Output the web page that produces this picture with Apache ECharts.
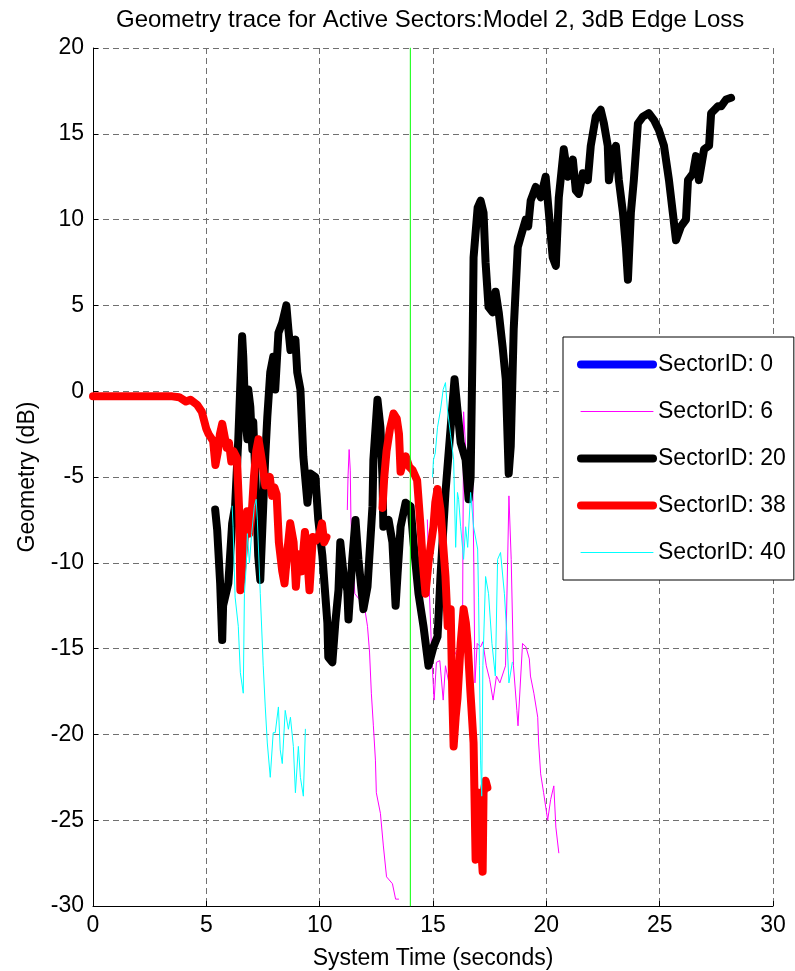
<!DOCTYPE html>
<html>
<head>
<meta charset="utf-8">
<script src="https://cdn.jsdelivr.net/npm/echarts@6/dist/echarts.min.js"></script>
<style>
  html, body { margin: 0; padding: 0; background: #fff; }
  #chart-container { width: 795px; height: 971px; }
</style>
</head>
<body>
<div id="chart-container"></div>
<script>
// values: [time (s), geometry (dB)]
var sector0 = [];

var sector6a = [[11.22,-6.9],[11.25,-5.0],[11.3,-3.4],[11.35,-4.6],[11.38,-7.5],[11.55,-11.8],[11.97,-12.5],[12.11,-13.7],[12.2,-15.2],[12.28,-17.6],[12.37,-19.5],[12.46,-21.5],[12.5,-23.4],[12.68,-24.6],[12.81,-26.5],[12.95,-28.3],[13.21,-28.7],[13.35,-29.6],[13.48,-29.6]];
var sector6b = [[14.75,-7.5],[14.85,-12],[14.95,-15.6],[15.05,-18],[15.15,-15.8],[15.3,-15.7],[15.45,-18],[15.55,-16],[15.7,-17],[15.9,-15.5],[16.1,-15],[16.3,-14.8],[16.35,-1.2],[16.45,-3.5],[16.6,-5],[16.75,-4.9],[16.8,-10],[16.85,-17],[16.95,-14.7],[17.1,-14.9],[17.2,-14.6],[17.35,-16],[17.5,-16.8],[17.65,-18],[17.8,-16.6],[17.95,-17],[18.2,-16],[18.35,-6.1],[18.45,-9.8],[18.55,-16],[18.7,-18.6],[18.75,-19.5],[18.95,-14.7],[19.1,-14.9],[19.25,-15.6],[19.3,-16.6],[19.45,-17.6],[19.62,-19],[19.66,-20.5],[19.75,-22.3],[19.88,-23.4],[20.06,-25],[20.19,-23.8],[20.33,-23],[20.42,-25.4],[20.55,-26.9]];

var sector20 = [[5.39,-6.9],[5.48,-8.1],[5.61,-11.2],[5.70,-14.5],[5.74,-12.5],[5.97,-11.2],[6.14,-7.7],[6.27,-6.7],[6.41,-2.8],[6.58,3.2],[6.63,2.0],[6.72,-1.5],[6.81,-2.8],[6.85,0.1],[6.94,-0.9],[7.03,-3.4],[7.07,-1.8],[7.16,-4.8],[7.29,-9.6],[7.38,-11],[7.51,-6.7],[7.60,-3.8],[7.69,-1.5],[7.82,1.1],[7.95,2.0],[8.04,0.1],[8.18,3.4],[8.35,4.0],[8.53,5.0],[8.62,3.6],[8.71,2.4],[8.93,3.0],[9.01,1.1],[9.15,0.1],[9.28,-3.8],[9.46,-6.5],[9.59,-4.8],[9.81,-5.0],[9.94,-7.5],[10.12,-9.6],[10.34,-13.5],[10.38,-15.5],[10.56,-15.8],[10.69,-13.5],[10.83,-11.6],[10.91,-8.8],[11.05,-10.6],[11.22,-11.6],[11.27,-13.3],[11.44,-9.8],[11.58,-7.5],[11.71,-9.8],[11.93,-12.7],[12.11,-11.4],[12.33,-6.7],[12.37,-4.0],[12.55,-0.5],[12.68,-2.1],[12.77,-5.0],[12.81,-7.9],[13.04,-7.5],[13.21,-8.8],[13.35,-12.5],[13.43,-10.8],[13.57,-7.9],[13.79,-6.5],[14.01,-6.7],[14.14,-8.8],[14.36,-11.8],[14.58,-13.7],[14.80,-16],[15.02,-14.9],[15.20,-14.3],[15.33,-10.8],[15.55,-5.9],[15.78,-2.1],[15.95,0.7],[16.08,-1.1],[16.22,-3.0],[16.44,-4.0],[16.57,-6.3],[16.66,-5.0],[16.75,3.0],[16.79,7.8],[16.97,10.7],[17.10,11.1],[17.23,10.4],[17.32,7.5],[17.45,4.9],[17.63,4.6],[17.76,5.8],[17.90,4.6],[18.07,2.6],[18.21,0.7],[18.34,-4.8],[18.43,-3.2],[18.56,3.6],[18.74,8.4],[18.87,9.0],[19.09,10.0],[19.2,9.6],[19.31,11.1],[19.53,11.9],[19.75,11.3],[19.97,12.5],[20.11,10.4],[20.28,7.8],[20.42,7.3],[20.55,11.3],[20.77,14.1],[20.95,12.5],[21.17,13.5],[21.30,11.7],[21.43,11.5],[21.61,12.7],[21.83,12.3],[21.96,14.3],[22.18,16.0],[22.40,16.4],[22.54,15.6],[22.71,14.3],[22.76,12.3],[22.93,13.9],[23.07,14.3],[23.20,12.3],[23.38,10.4],[23.51,8.4],[23.60,6.5],[23.73,10.4],[23.86,12.3],[24.04,15.6],[24.26,16.0],[24.52,16.2],[24.75,15.8],[24.97,15.2],[25.19,14.3],[25.41,12.3],[25.58,10.4],[25.72,8.8],[25.94,9.6],[26.16,10.0],[26.25,12.3],[26.47,12.7],[26.60,13.7],[26.73,12.3],[26.96,14.1],[27.18,14.3],[27.27,16.2],[27.57,16.6],[27.71,16.6],[27.93,17.0],[28.15,17.1]];

var sector38a = [[0,-0.3],[3.5,-0.3],[3.8,-0.35],[4.1,-0.6],[4.3,-0.5],[4.6,-0.8],[4.8,-1.2],[5.0,-2.2],[5.1,-2.5],[5.3,-2.9],[5.4,-4.3],[5.5,-3.6],[5.6,-2.5],[5.7,-1.9],[5.8,-2.6],[5.9,-3.3],[6.0,-3.0],[6.1,-4.1],[6.2,-3.5],[6.35,-3.9],[6.45,-7],[6.5,-11.6],[6.6,-10],[6.7,-8.5],[6.8,-7],[6.9,-8.3],[7.0,-7.2],[7.1,-5],[7.2,-3.5],[7.3,-2.8],[7.4,-3.6],[7.5,-4.5],[7.6,-5.5],[7.8,-5.0],[7.9,-6.1],[8.0,-5.6],[8.1,-6],[8.2,-8.8],[8.35,-10.5],[8.45,-11.2],[8.6,-9],[8.7,-7.7],[8.85,-8.8],[8.95,-11.4],[9.05,-9.5],[9.2,-10.5],[9.35,-8.2],[9.45,-9.6],[9.55,-11.6],[9.7,-8.5],[9.85,-8.7],[10.0,-8.3],[10.1,-7.7],[10.2,-8.8],[10.3,-8.5]];
var sector38b = [[12.77,-6.8],[12.85,-5],[12.95,-3.5],[13.1,-2.2],[13.26,-1.3],[13.4,-1.6],[13.5,-2.5],[13.57,-4.7],[13.7,-4.0],[13.8,-3.8],[13.95,-4.4],[14.1,-4.6],[14.3,-5.2],[14.45,-7.9],[14.55,-10],[14.67,-11.8],[14.8,-10],[14.9,-9],[15.02,-7.9],[15.1,-6.5],[15.2,-5.7],[15.33,-6.9],[15.45,-9],[15.55,-10.8],[15.65,-13.7],[15.78,-12.7],[15.85,-17.6],[15.91,-20.7],[16.0,-19],[16.08,-17.9],[16.22,-14.7],[16.35,-12.7],[16.45,-13.5],[16.53,-14.7],[16.65,-17.5],[16.79,-20.5],[16.88,-27.3],[16.95,-25],[17.01,-23.4],[17.1,-26],[17.19,-28],[17.23,-23.4],[17.32,-22.7],[17.4,-23.1]];

var sector40a = [[6.14,-6.7],[6.18,-7.9],[6.27,-12],[6.41,-13.7],[6.50,-16.4],[6.63,-17.6],[6.68,-11.8],[6.76,-10.2],[6.81,-8.3],[6.90,-10],[7.0,-8.3],[7.12,-6.7],[7.2,-6.3],[7.25,-7.5],[7.38,-11.8],[7.51,-16],[7.60,-18.4],[7.69,-20.5],[7.82,-22.5],[7.95,-19.9],[8.04,-19.9],[8.18,-18.4],[8.26,-20.9],[8.35,-21.7],[8.48,-18.6],[8.62,-19.7],[8.71,-19],[8.84,-20.7],[8.93,-23.4],[9.06,-20.7],[9.15,-22.5],[9.28,-23.6],[9.37,-19.7]];
var sector40b = [[14.98,-5.0],[15.02,-4],[15.1,-3.6],[15.2,-2.1],[15.33,-1.1],[15.45,0.1],[15.55,0.5],[15.64,-1.1],[15.78,-2.6],[15.91,-4.0],[16.0,-9.1],[16.08,-5.9],[16.13,-6.3],[16.22,-7.9],[16.35,-9.8],[16.44,-7.9],[16.53,-9.1],[16.66,-5.9],[16.79,-7.9],[16.97,-9.2],[17.01,-12],[17.05,-16],[17.1,-21.5],[17.15,-23.6],[17.2,-16],[17.32,-10.8],[17.45,-11.8],[17.6,-14.7],[17.75,-16.6],[17.85,-9.8],[17.98,-9.4],[18.15,-11.8],[18.25,-14],[18.35,-17],[18.5,-15.8]];

var markerTime = 14.0;

var names = ['SectorID: 0', 'SectorID: 6', 'SectorID: 20', 'SectorID: 38', 'SectorID: 40'];

var chartDom = document.getElementById('chart-container');
var myChart = echarts.init(chartDom);
var fontName = 'Liberation Sans';
var thick = 8;

function trace(name, data, color, width) {
  return {
    name: name,
    type: 'line',
    data: data,
    symbol: 'none',
    animation: false,
    lineStyle: { color: color, width: width, cap: 'round', join: 'round' },
    itemStyle: { color: color }
  };
}

var series = [
  trace(names[0], sector0, '#0000ff', thick),
  trace(names[1], sector6a, '#ff00ff', 1),
  trace(names[1], sector6b, '#ff00ff', 1),
  trace(names[2], sector20, '#000000', thick),
  trace(names[3], sector38a, '#ff0000', thick),
  trace(names[3], sector38b, '#ff0000', thick),
  trace(names[4], sector40a, '#00ffff', 1),
  trace(names[4], sector40b, '#00ffff', 1),
  trace('marker', [[markerTime, -30], [markerTime, 20]], '#00ff00', 1)
];

var legendWidths = [thick, 1, thick, thick, 1];

var option = {
  animation: false,
  backgroundColor: '#fff',
  title: {
    text: 'Geometry trace for Active Sectors:Model 2, 3dB Edge Loss',
    left: 111,
    top: 3,
    textStyle: { fontFamily: fontName, fontSize: 24, fontWeight: 'normal', color: '#000' }
  },
  grid: { left: 93, right: 22, top: 48, bottom: 65, outerBoundsMode: 'none' },
  legend: {
    data: names.map(function (n, i) {
      return { name: n, lineStyle: { width: legendWidths[i], cap: 'round' } };
    }),
    orient: 'vertical',
    left: 563,
    top: 337,
    backgroundColor: '#fff',
    borderColor: '#000',
    borderWidth: 1,
    borderRadius: 0,
    padding: [16, 8, 16, 14],
    itemWidth: 72,
    itemHeight: 14,
    itemGap: 24,
    itemStyle: { opacity: 0 },
    textStyle: { fontFamily: fontName, fontSize: 23, color: '#000' }
  },
  xAxis: {
    type: 'value',
    min: 0,
    max: 30,
    interval: 5,
    name: 'System Time (seconds)',
    nameLocation: 'middle',
    nameGap: 41,
    nameTextStyle: { fontFamily: fontName, fontSize: 23, color: '#000' },
    axisLine: { onZero: false, lineStyle: { color: '#000', width: 1 } },
    axisTick: { inside: true, length: 5, lineStyle: { color: '#000' } },
    axisLabel: { fontFamily: fontName, fontSize: 23, color: '#000', margin: 8 },
    splitLine: { show: true, lineStyle: { color: '#707070', type: [6, 4], width: 1 } }
  },
  yAxis: {
    type: 'value',
    min: -30,
    max: 20,
    interval: 5,
    name: 'Geometry (dB)',
    nameLocation: 'middle',
    nameGap: 54,
    nameTextStyle: { fontFamily: fontName, fontSize: 23, color: '#000' },
    axisLine: { show: true, onZero: false, lineStyle: { color: '#000', width: 1 } },
    axisTick: { show: true, inside: true, length: 5, lineStyle: { color: '#000' } },
    axisLabel: { fontFamily: fontName, fontSize: 23, color: '#000', margin: 9 },
    splitLine: { show: true, lineStyle: { color: '#707070', type: [6, 4], width: 1 } }
  },
  series: series
};

option && myChart.setOption(option);
</script>
</body>
</html>
